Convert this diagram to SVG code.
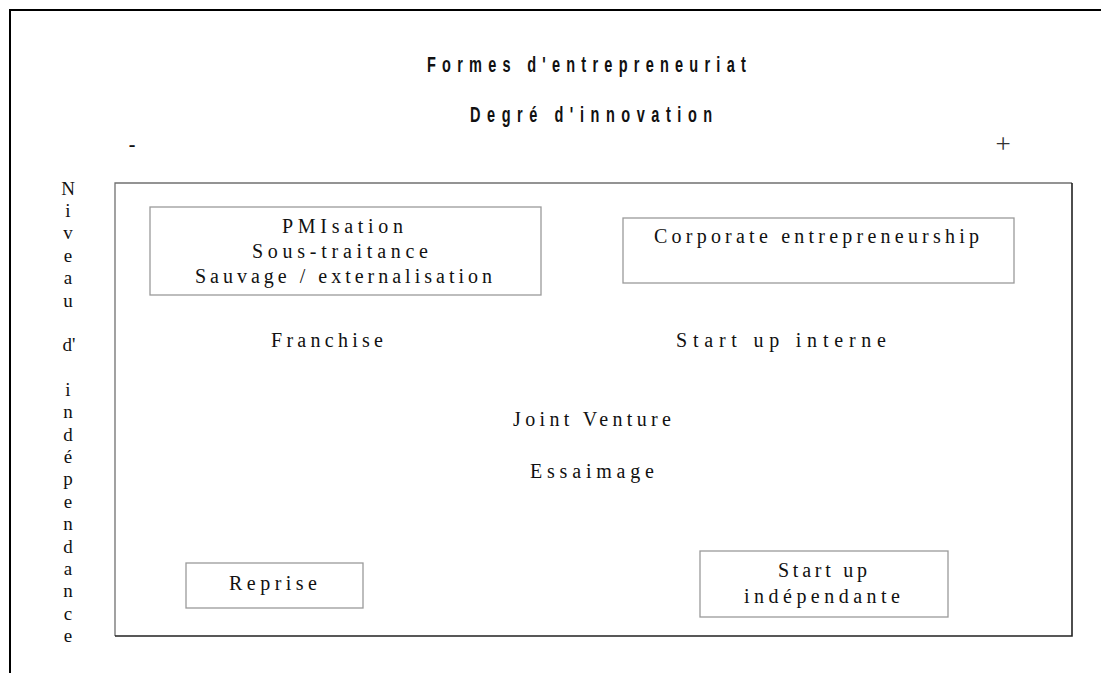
<svg xmlns="http://www.w3.org/2000/svg" width="1101" height="673" viewBox="0 0 1101 673">
<style>
.t{font-family:"Liberation Serif","Times New Roman",serif;font-size:20px;fill:#111;}
.h{font-family:"Liberation Sans Narrow","Arial Narrow","Liberation Sans",sans-serif;font-size:22px;font-weight:bold;fill:#111;}
.box{fill:#fff;stroke:#9a9a9a;stroke-width:1.3;}
.v{font-family:"Liberation Serif","Times New Roman",serif;font-size:19px;fill:#111;text-anchor:middle;}
.plus{font-family:"Liberation Serif","Times New Roman",serif;font-size:27px;fill:#333;text-anchor:middle;}
</style>
<rect x="0" y="0" width="1101" height="673" fill="#fff"/>
<g id="frame">
<path d="M10,673 V10 H1101" fill="none" stroke="#000" stroke-width="2"/>
</g>
<g id="titles">
<text class="h" transform="translate(427,72) scale(0.66,1)" x="0" y="0" textLength="483" lengthAdjust="spacing">Formes d'entrepreneuriat</text>
<text class="h" transform="translate(470,122) scale(0.66,1)" x="0" y="0" textLength="367" lengthAdjust="spacing">Degré d'innovation</text>
<text class="t" x="132" y="151" text-anchor="middle" font-weight="bold">-</text>
<text class="plus" x="1003" y="153">+</text>
</g>
<g id="axis-label">
<text class="v" x="68" y="195">N</text>
<text class="v" x="68" y="217">i</text>
<text class="v" x="68" y="239">v</text>
<text class="v" x="68" y="262">e</text>
<text class="v" x="68" y="284">a</text>
<text class="v" x="68" y="307">u</text>
<text class="v" x="69" y="351">d'</text>
<text class="v" x="68" y="396">i</text>
<text class="v" x="68" y="418">n</text>
<text class="v" x="68" y="441">d</text>
<text class="v" x="68" y="463">é</text>
<text class="v" x="68" y="485">p</text>
<text class="v" x="68" y="508">e</text>
<text class="v" x="68" y="530">n</text>
<text class="v" x="68" y="553">d</text>
<text class="v" x="68" y="575">a</text>
<text class="v" x="68" y="597">n</text>
<text class="v" x="68" y="620">c</text>
<text class="v" x="68" y="642">e</text>
</g>
<g id="matrix">
<path d="M115,636 V183 H1072" fill="none" stroke="#707070" stroke-width="1.3"/>
<path d="M1072,183 V636 H115" fill="none" stroke="#222" stroke-width="1.6"/>
</g>
<g id="node-pmisation">
<rect class="box" x="150" y="207" width="391" height="88"/>
<text class="t" x="282" y="233" textLength="121" lengthAdjust="spacing">PMIsation</text>
<text class="t" x="252" y="258" textLength="176" lengthAdjust="spacing">Sous-traitance</text>
<text class="t" x="195" y="283" textLength="297" lengthAdjust="spacing">Sauvage / externalisation</text>
</g>
<g id="node-corporate">
<rect class="box" x="623" y="218" width="391" height="65"/>
<text class="t" x="654" y="243" textLength="325" lengthAdjust="spacing">Corporate entrepreneurship</text>
</g>
<g id="node-franchise">
<text class="t" x="271" y="347" textLength="112" lengthAdjust="spacing">Franchise</text>
</g>
<g id="node-startup-interne">
<text class="t" x="676" y="347" textLength="210" lengthAdjust="spacing">Start up interne</text>
</g>
<g id="node-joint-venture">
<text class="t" x="513" y="426" textLength="158" lengthAdjust="spacing">Joint Venture</text>
</g>
<g id="node-essaimage">
<text class="t" x="530" y="478" textLength="124" lengthAdjust="spacing">Essaimage</text>
</g>
<g id="node-reprise">
<rect class="box" x="186" y="563" width="177" height="45"/>
<text class="t" x="229" y="590" textLength="88" lengthAdjust="spacing">Reprise</text>
</g>
<g id="node-startup-independante">
<rect class="box" x="700" y="551" width="248" height="66"/>
<text class="t" x="778" y="577" textLength="89" lengthAdjust="spacing">Start up</text>
<text class="t" x="744" y="603" textLength="156" lengthAdjust="spacing">indépendante</text>
</g>
<g id="connectors"></g>
</svg>
